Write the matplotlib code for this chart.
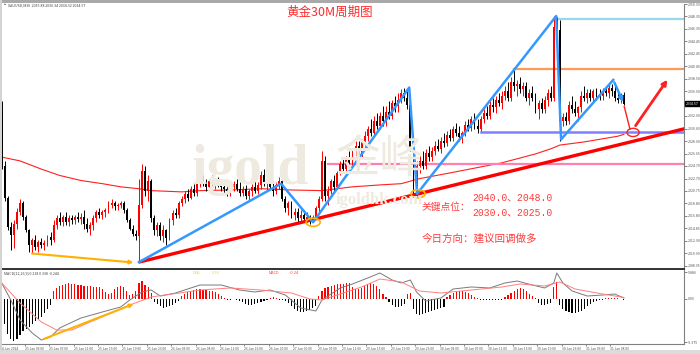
import numpy as np
import matplotlib
matplotlib.use("Agg")
import matplotlib.pyplot as plt
from matplotlib.patches import Ellipse, Rectangle

plt.rcParams['font.family'] = ['Noto Sans CJK SC', 'DejaVu Sans']

# XAUUSD M30 candles, 24 Jan - 31 Jan 2024
opens = [2032.9, 2024.7, 2019.7, 2015.0, 2013.8, 2015.6, 2017.5, 2018.8, 2016.6, 2014.5,
         2012.2, 2013.0, 2011.9, 2012.7, 2012.2, 2012.5, 2013.4, 2013.0, 2015.3, 2016.4,
         2015.8, 2016.6, 2015.8, 2016.4, 2016.1, 2016.7, 2016.3, 2016.7, 2015.5, 2014.8,
         2015.3, 2016.4, 2017.4, 2016.9, 2017.4, 2017.7, 2018.5, 2018.9, 2018.3, 2018.5,
         2018.8, 2017.7, 2016.1, 2014.8, 2013.9, 2013.6, 2018.5, 2023.9, 2020.8, 2022.4,
         2016.4, 2014.5, 2015.3, 2013.6, 2014.5, 2013.3, 2016.1, 2017.2, 2016.9, 2018.8,
         2019.5, 2020.3, 2019.7, 2021.1, 2020.5, 2022.1, 2022.7, 2022.1, 2021.4, 2022.4,
         2021.9, 2022.4, 2021.7, 2021.4, 2021.1, 2020.8, 2021.3, 2021.9, 2021.1, 2020.5,
         2021.1, 2020.0, 2020.8, 2021.4, 2020.8, 2021.7, 2023.2, 2022.1, 2022.7, 2021.4,
         2020.8, 2021.7, 2022.4, 2019.5, 2018.0, 2018.8, 2016.9, 2017.4, 2016.4, 2017.0,
         2016.3, 2016.7, 2016.1, 2016.7, 2018.0, 2019.5, 2025.5, 2020.0, 2020.8, 2022.4,
         2021.4, 2023.6, 2025.0, 2024.2, 2025.8, 2025.2, 2027.1, 2027.9, 2026.3, 2028.6,
         2029.4, 2030.5, 2029.9, 2031.8, 2031.0, 2032.6, 2031.8, 2033.3, 2032.6, 2034.6,
         2034.1, 2035.2, 2036.2, 2035.5, 2034.3, 2027.4, 2020.0, 2024.7, 2025.5, 2024.7,
         2026.8, 2026.1, 2027.1, 2027.9, 2027.4, 2028.6, 2028.3, 2029.6, 2029.1, 2030.5,
         2029.9, 2029.3, 2029.9, 2031.1, 2030.7, 2032.1, 2031.0, 2030.5, 2032.1, 2033.0,
         2032.6, 2034.4, 2034.0, 2035.1, 2034.6, 2035.8, 2036.5, 2035.4, 2038.0, 2037.3,
         2037.7, 2036.8, 2037.4, 2035.5, 2036.2, 2035.4, 2033.7, 2034.6, 2033.7, 2035.2,
         2036.2, 2035.5, 2046.7, 2046.2, 2031.8, 2032.4, 2031.8, 2034.4, 2033.7, 2033.0,
         2034.0, 2035.8, 2035.5, 2036.2, 2035.4, 2036.5, 2036.0, 2035.7, 2036.5, 2036.2,
         2037.1, 2036.5, 2035.5, 2035.1, 2035.88]
highs = [2034.9, 2025.5, 2020.0, 2015.8, 2016.1, 2018.0, 2019.5, 2019.2, 2016.9, 2014.8,
         2013.3, 2013.8, 2013.0, 2013.3, 2013.0, 2013.8, 2014.2, 2016.1, 2016.9, 2017.4,
         2016.9, 2017.4, 2016.9, 2017.0, 2017.0, 2017.4, 2017.2, 2017.7, 2016.4, 2015.8,
         2016.9, 2017.7, 2018.0, 2017.7, 2018.0, 2019.2, 2019.5, 2019.2, 2018.9, 2019.2,
         2019.2, 2018.0, 2016.4, 2015.3, 2014.5, 2022.7, 2025.0, 2024.7, 2023.2, 2022.7,
         2016.9, 2015.8, 2015.8, 2015.3, 2014.8, 2016.4, 2017.7, 2018.0, 2019.2, 2020.0,
         2020.8, 2021.1, 2021.6, 2021.9, 2022.4, 2023.0, 2023.2, 2022.7, 2022.7, 2023.2,
         2022.7, 2023.0, 2022.7, 2022.4, 2022.1, 2021.6, 2022.4, 2022.7, 2022.1, 2021.6,
         2021.7, 2021.1, 2021.9, 2022.4, 2022.1, 2023.9, 2024.2, 2023.2, 2023.6, 2022.4,
         2022.1, 2023.0, 2022.7, 2020.0, 2019.2, 2019.2, 2018.0, 2018.0, 2017.7, 2017.7,
         2017.4, 2017.0, 2017.0, 2018.4, 2020.0, 2027.1, 2026.3, 2021.6, 2022.7, 2023.2,
         2023.9, 2025.5, 2025.8, 2026.3, 2027.1, 2027.4, 2028.6, 2028.6, 2029.0, 2030.2,
         2031.0, 2032.1, 2032.6, 2033.0, 2033.3, 2034.1, 2034.1, 2034.9, 2035.2, 2035.7,
         2036.2, 2036.8, 2037.1, 2036.5, 2034.9, 2028.6, 2025.5, 2026.3, 2027.1, 2027.4,
         2027.9, 2027.7, 2028.6, 2029.0, 2029.3, 2029.9, 2030.2, 2030.5, 2031.0, 2031.5,
         2031.0, 2030.2, 2031.8, 2032.1, 2032.6, 2033.0, 2032.1, 2032.6, 2033.7, 2034.1,
         2034.9, 2035.5, 2035.7, 2036.2, 2036.5, 2037.3, 2038.0, 2038.8, 2039.9, 2038.3,
         2038.7, 2038.0, 2038.0, 2036.8, 2037.3, 2036.2, 2035.2, 2035.5, 2035.7, 2036.8,
         2037.3, 2048.4, 2048.2, 2047.7, 2033.0, 2033.3, 2034.9, 2035.7, 2034.9, 2034.1,
         2036.5, 2037.3, 2036.8, 2036.8, 2036.8, 2037.1, 2036.8, 2037.1, 2037.3, 2037.7,
         2037.7, 2037.4, 2036.5, 2036.2, 2036.34]
lows = [2024.2, 2019.2, 2014.5, 2011.4, 2011.7, 2014.8, 2016.9, 2016.1, 2014.2, 2011.1,
        2010.9, 2011.4, 2011.1, 2011.7, 2011.4, 2012.0, 2012.2, 2012.7, 2014.8, 2015.3,
        2015.2, 2015.3, 2015.2, 2015.5, 2015.6, 2015.8, 2015.5, 2014.8, 2014.2, 2013.8,
        2014.5, 2015.8, 2016.4, 2016.3, 2016.7, 2017.2, 2018.0, 2017.7, 2017.7, 2018.0,
        2017.2, 2015.8, 2014.5, 2013.6, 2013.0, 2009.5, 2018.0, 2020.0, 2019.2, 2015.8,
        2013.8, 2013.6, 2013.0, 2012.7, 2012.2, 2013.0, 2015.3, 2016.4, 2016.4, 2018.3,
        2018.9, 2019.2, 2019.4, 2020.0, 2020.0, 2021.4, 2021.6, 2020.8, 2020.8, 2021.6,
        2021.1, 2021.4, 2020.8, 2020.5, 2020.0, 2019.9, 2020.8, 2020.8, 2020.0, 2019.9,
        2019.5, 2019.2, 2020.0, 2020.5, 2020.2, 2021.1, 2021.6, 2020.8, 2021.1, 2020.0,
        2020.2, 2021.1, 2019.2, 2017.4, 2016.9, 2016.4, 2016.1, 2015.9, 2015.8, 2015.9,
        2015.8, 2015.6, 2015.8, 2016.4, 2017.4, 2019.2, 2019.2, 2018.5, 2020.2, 2020.8,
        2021.1, 2023.2, 2023.6, 2023.9, 2024.7, 2024.7, 2026.3, 2025.8, 2025.8, 2027.9,
        2028.6, 2029.4, 2029.4, 2030.5, 2030.5, 2031.0, 2031.0, 2032.1, 2032.1, 2033.3,
        2033.3, 2034.6, 2034.9, 2033.7, 2027.1, 2019.8, 2019.8, 2023.6, 2024.2, 2024.2,
        2025.5, 2025.5, 2026.4, 2027.1, 2026.8, 2027.7, 2027.9, 2028.6, 2028.6, 2029.4,
        2028.6, 2028.3, 2029.4, 2030.2, 2030.2, 2030.5, 2029.9, 2030.2, 2031.5, 2032.1,
        2032.1, 2033.3, 2033.0, 2034.1, 2033.7, 2035.2, 2034.9, 2034.9, 2036.5, 2035.7,
        2036.2, 2035.8, 2034.9, 2034.3, 2034.9, 2033.0, 2032.1, 2033.0, 2033.0, 2034.1,
        2034.9, 2034.9, 2045.6, 2028.6, 2031.0, 2031.1, 2031.3, 2033.0, 2032.6, 2031.8,
        2033.3, 2034.9, 2034.6, 2034.9, 2034.9, 2035.2, 2035.2, 2035.2, 2035.7, 2035.5,
        2035.7, 2034.9, 2034.6, 2034.6, 2034.32]
closes = [2024.7, 2019.7, 2015.0, 2013.8, 2015.6, 2017.5, 2018.8, 2016.6, 2014.5, 2012.2,
          2013.0, 2011.9, 2012.7, 2012.2, 2012.5, 2013.4, 2013.0, 2015.3, 2016.4, 2015.8,
          2016.6, 2015.8, 2016.4, 2016.1, 2016.7, 2016.3, 2016.7, 2015.5, 2014.8, 2015.3,
          2016.4, 2017.4, 2016.9, 2017.4, 2017.7, 2018.5, 2018.9, 2018.3, 2018.5, 2018.8,
          2017.7, 2016.1, 2014.8, 2013.9, 2013.6, 2018.5, 2023.9, 2020.8, 2022.4, 2016.4,
          2014.5, 2015.3, 2013.6, 2014.5, 2013.3, 2016.1, 2017.2, 2016.9, 2018.8, 2019.5,
          2020.3, 2019.7, 2021.1, 2020.5, 2022.1, 2022.7, 2022.1, 2021.4, 2022.4, 2021.9,
          2022.4, 2021.7, 2021.4, 2021.1, 2020.8, 2021.3, 2021.9, 2021.1, 2020.5, 2021.1,
          2020.0, 2020.8, 2021.4, 2020.8, 2021.7, 2023.2, 2022.1, 2022.7, 2021.4, 2020.8,
          2021.7, 2022.4, 2019.5, 2018.0, 2018.8, 2016.9, 2017.4, 2016.4, 2017.0, 2016.3,
          2016.7, 2016.1, 2016.7, 2018.0, 2019.5, 2025.5, 2020.0, 2020.8, 2022.4, 2021.4,
          2023.6, 2025.0, 2024.2, 2025.8, 2025.2, 2027.1, 2027.9, 2026.3, 2028.6, 2029.4,
          2030.5, 2029.9, 2031.8, 2031.0, 2032.6, 2031.8, 2033.3, 2032.6, 2034.6, 2034.1,
          2035.2, 2036.2, 2035.5, 2034.3, 2027.4, 2020.0, 2024.7, 2025.5, 2024.7, 2026.8,
          2026.1, 2027.1, 2027.9, 2027.4, 2028.6, 2028.3, 2029.6, 2029.1, 2030.5, 2029.9,
          2029.3, 2029.9, 2031.1, 2030.7, 2032.1, 2031.0, 2030.5, 2032.1, 2033.0, 2032.6,
          2034.4, 2034.0, 2035.1, 2034.6, 2035.8, 2036.5, 2035.4, 2038.0, 2037.3, 2037.7,
          2036.8, 2037.4, 2035.5, 2036.2, 2035.4, 2033.7, 2034.6, 2033.7, 2035.2, 2036.2,
          2035.5, 2046.7, 2046.2, 2031.8, 2032.4, 2031.8, 2034.4, 2033.7, 2033.0, 2034.0,
          2035.8, 2035.5, 2036.2, 2035.4, 2036.5, 2036.0, 2035.7, 2036.5, 2036.2, 2037.1,
          2036.5, 2035.5, 2035.1, 2035.9, 2034.57]

# long moving average (red thin line), sampled at bar index
ma_bars = [0, 6, 13, 19, 26, 33, 39, 45, 49, 59, 65, 75, 85, 95, 105, 115, 124, 131,
           137, 147, 164, 175, 180, 183, 191, 202, 204]
ma_vals = [2026.1, 2025.5, 2024.2, 2023.2, 2022.4, 2021.9, 2021.4, 2021.1, 2020.8, 2020.6,
           2020.8, 2020.9, 2021.1, 2020.9, 2020.8, 2021.4, 2021.7, 2021.9, 2022.7, 2023.6,
           2025.2, 2026.6, 2027.4, 2028.0, 2028.5, 2029.4, 2029.7]

# MACD(12,26,9) histogram, one value per bar
macd_hist = [-2.2, -5.5, -7.6, -8.7, -9.2, -8.7, -7.8, -7.0, -6.5, -6.1, -5.5, -4.8, -4.4, -3.9, -3.1, -2.2, -1.3,
             1.7, 2.4, 2.8, 3.1, 3.3, 3.5, 3.3, 3.3, 3.1, 3.1, 2.8, 2.8, 2.8, 2.6, 2.6, 2.6, 2.2, 1.5, 1.1,
             1.3, 2.2, 2.6, 2.8, 2.6, 1.7, 0.9, 1.1, 1.7, 3.5, 3.9, 3.1, 2.6, 1.3,
             -0.7, -1.1, -1.5, -2.0, -1.7, -1.5, -1.3, -0.9, -0.4,
             0.7, 1.1, 1.5, 1.7, 2.0, 2.2, 2.2, 2.0, 2.0, 1.7, 1.7, 1.5, 1.1, 0.7,
             0.2, -0.2, -0.2, 0.1, -0.2, -0.4,
             -0.7, -1.1, -1.3, -1.3, -1.1, -0.9, -0.7, -0.4, -0.2,
             0.2, 0.4, 0.2, -0.2, -0.2, -0.4,
             -0.9, -1.5, -2.2, -2.6, -2.8, -2.8, -2.6, -2.4, -2.0, -1.5,
             0.7, 1.7, 2.4, 2.6, 2.8, 3.1, 3.3, 3.3, 3.3, 3.5, 3.5,
             2.6, 2.2, 2.2, 2.4, 2.8, 3.3, 3.5, 3.3, 2.8, 2.2, 1.1, 0.4,
             -0.7, -1.3, -1.7, -1.7, -1.5, -1.1,
             1.1, 1.3,
             -2.2, -3.3, -3.5, -3.3, -3.1, -2.8, -2.6, -2.4, -2.2, -2.0, -1.7,
             0.4, 0.9, 1.3, 1.5, 1.7, 1.7, 1.5, 1.3, 0.9, 0.4, 0.2,
             -0.2, -0.2, -0.2, -0.2, -0.2, -0.2, -0.2, -0.2,
             0.4, 0.9, 1.3, 1.7, 2.2, 2.4, 2.2, 1.7, 1.1, 0.7, 0.2,
             -0.9, -1.3, -1.3, -1.1, -0.9,
             2.6, 3.7,
             -1.3, -2.2, -2.6, -2.8, -3.1, -3.1, -2.8, -2.6, -2.2, -1.5, -1.1,
             -0.7, -0.4, -0.2, -0.2, 0.2, 0.2, 0.2, 0.2, 0.2, 0.1, -0.24]

dif_bars = [0, 3, 6, 10, 13, 16, 19, 26, 33, 39, 42, 46, 49, 52, 57, 62, 65, 72, 78, 83, 88,
            93, 98, 103, 105, 111, 115, 120, 124, 128, 131, 134, 136, 139, 144, 148, 154, 160,
            165, 169, 174, 178, 181, 182, 184, 187, 192, 197, 201, 204]
dif_vals = [3.49, -0.22, -4.58, -7.41, -8.94, -8.28, -6.32, -4.14, -2.83, -1.74, -0.22, 1.53,
            1.96, 0.65, 1.31, 2.40, 3.05, 3.05, 1.96, 1.53, 1.96, 0.87, -1.96, -2.62, -0.22,
            2.40, 3.27, 4.58, 5.67, 4.14, 3.49, 4.14, 1.53, -0.44, 0.22, 2.18, 2.62, 2.40,
            3.49, 3.92, 3.05, 2.40, 3.49, 5.67, 3.49, 1.74, 0.65, 0.87, 1.09, 0.22]
dea_bars = [0, 6, 13, 18, 23, 29, 36, 42, 49, 56, 65, 75, 85, 95, 101, 105, 111, 118, 124,
            131, 137, 144, 154, 164, 170, 178, 183, 188, 197, 204]
dea_vals = [3.49, -0.87, -5.01, -6.76, -6.76, -5.01, -3.05, -1.31, 0.44, 1.09, 1.96, 2.40,
            1.96, 1.31, 0.0, -0.22, 1.09, 2.62, 4.36, 3.71, 1.74, 1.31, 1.96, 2.62, 3.27,
            2.83, 3.71, 2.18, 1.09, 0.34]

time_labels = ['24 Jan 2024', '25 Jan 03:00', '25 Jan 07:00', '25 Jan 11:00', '25 Jan 15:00',
               '25 Jan 19:00', '25 Jan 23:00', '26 Jan 03:00', '26 Jan 08:00', '26 Jan 12:00',
               '26 Jan 16:00', '26 Jan 20:00', '27 Jan 00:00', '29 Jan 07:00', '29 Jan 11:00',
               '29 Jan 15:00', '29 Jan 19:00', '29 Jan 23:00', '30 Jan 03:00', '30 Jan 07:00',
               '30 Jan 11:00', '30 Jan 15:00', '30 Jan 19:00', '30 Jan 23:00', '31 Jan 03:00',
               '31 Jan 08:00']
time_label_bars = [8 * k - 0.4 for k in range(len(time_labels))]

price_ticks = [2050.30, 2048.35, 2046.35, 2044.45, 2042.45, 2040.45, 2038.50, 2036.50,
               2032.60, 2030.60, 2028.60, 2026.65, 2024.70, 2022.70, 2020.75, 2018.80,
               2016.80, 2014.85, 2012.90, 2010.90, 2008.95]
macd_ticks = [5.886, 0.0, -9.375]
macd_tick_labels = ['5.886', '0.00', '-9.375']
last_price = 2034.57

# key levels and hand-drawn analysis
level_cyan, level_cyan_from = 2048.0, 182
level_orange, level_orange_from = 2040.0, 168
level_purple, level_purple_from = 2030.0, 157
level_pink, level_pink_from = 2025.0, 107
trend_bars, trend_vals = [45, 224], [2009.5, 2030.6]
zig_bars = [45, 91.6, 102.1, 133.6, 136.2, 181.8, 183.4, 200.5]
zig_vals = [2009.5, 2021.9, 2015.8, 2037.1, 2020.3, 2048.4, 2028.9, 2038.3]
zig_tip = (204.1, 2034.4)
orange_arrow = ((9.0, 2010.9), (44.1, 2009.4))
red_down = ([204.1, 206.0], [2034.1, 2030.5])
red_arrow = ((207.3, 2030.7), (218.8, 2038.7))
red_ring = (207.0, 2030.0)
orange_rings = [(102.1, 2015.8), (136.5, 2020.3)]
macd_arrow = ((12.9, -8.94), (44.1, -0.87))

W, H = 700, 354


def fx(x):
    return x / W


def fy(y):
    return 1 - y / H


fig = plt.figure(figsize=(7, 3.54), dpi=100)
fig.patch.set_facecolor('white')
ax = fig.add_axes([0, fy(268), fx(684), 264 / H])
mx = fig.add_axes([0, fy(344), fx(684), 75 / H], sharex=ax)

o, h, l, c = map(np.array, (opens, highs, lows, closes))
x = np.arange(len(c))
col = np.where(c >= o, '#ff0000', '#000000')

# watermark behind everything
wm = '#efeadf'
fig.text(fx(192), fy(184), 'igold', fontsize=40, family='Liberation Serif', weight='bold',
         color=wm, zorder=0)
fig.text(fx(336), fy(172), '金峰', fontsize=32, color=wm, zorder=0)
fig.text(fx(336), fy(204), 'igoldhk.com', fontsize=12, family='Liberation Serif',
         weight='bold', color=wm, zorder=0)
ax.set_facecolor('none')
mx.set_facecolor('none')

ax.vlines(x, l, h, colors=col, lw=0.7, zorder=3)
ax.bar(x, np.maximum(np.abs(c - o), 0.12), bottom=np.minimum(o, c), width=0.62,
       color=col, lw=0, zorder=3)
ax.plot(ma_bars, ma_vals, color='#ff2020', lw=0.8, zorder=2)

xr = 224
ax.plot([level_cyan_from, xr], [level_cyan] * 2, color='#9ad6ec', lw=1.6, zorder=2)
ax.plot([level_orange_from, xr], [level_orange] * 2, color='#ff9955', lw=1.6, zorder=2)
ax.plot([level_purple_from, xr], [level_purple] * 2, color='#7f7fff', lw=1.8, zorder=2)
ax.plot([level_pink_from, xr], [level_pink] * 2, color='#ff7fb0', lw=1.6, zorder=2)

ax.plot(trend_bars, trend_vals, color='#ff0000', lw=2.4, zorder=4, solid_capstyle='butt')
ax.plot(zig_bars, zig_vals, color='#3399ff', lw=1.8, zorder=4)
ax.annotate('', xy=zig_tip, xytext=(zig_bars[-1], zig_vals[-1]),
            arrowprops=dict(arrowstyle='-|>', color='#3399ff', lw=1.8, mutation_scale=6), zorder=4)
ax.annotate('', xy=orange_arrow[1], xytext=orange_arrow[0],
            arrowprops=dict(arrowstyle='-|>', color='#ffb000', lw=1.5, mutation_scale=5), zorder=4)
ax.plot(*red_down, color='#ff2020', lw=1.0, zorder=4)
ax.annotate('', xy=red_arrow[1], xytext=red_arrow[0],
            arrowprops=dict(arrowstyle='-|>', color='#ff2020', lw=2.0, mutation_scale=7), zorder=4)
ax.add_patch(Ellipse(red_ring, 4.0, 1.3, fill=False, ec='#ff2020', lw=1.0, zorder=5))
for ring in orange_rings:
    ax.add_patch(Ellipse(ring, 4.6, 1.3, fill=False, ec='#ffb000', lw=1.2, zorder=5))

ax.set_xlim(-0.56, 223.7)
ax.set_ylim(2008.57, 2049.94)
for s in ('top', 'left', 'bottom'):
    ax.spines[s].set_visible(False)
ax.spines['right'].set_color('#808080')
ax.spines['right'].set_linewidth(0.8)
ax.yaxis.tick_right()
ax.set_yticks(price_ticks)
ax.set_yticklabels(['%.2f' % v for v in price_ticks])
ax.tick_params(axis='y', length=2, width=0.5, pad=1, labelsize=2.6, colors='#555555')
ax.tick_params(axis='x', bottom=False, labelbottom=False)

# current price box
ax.annotate('%.2f' % last_price, xy=(1.0, last_price), xycoords=('axes fraction', 'data'),
            xytext=(1.5, 0), textcoords='offset points', fontsize=2.6, color='white',
            va='center', ha='left', annotation_clip=False,
            bbox=dict(boxstyle='square,pad=0.25', fc='black', ec='black'))

# MACD panel
hv = np.array(macd_hist)
mx.bar(x, hv, width=0.38, color=np.where(hv >= 0, '#ff0000', '#000000'), lw=0, zorder=2)
mx.plot(dif_bars, dif_vals, color='#7a7a7a', lw=0.7, zorder=3)
mx.plot(dea_bars, dea_vals, color='#ff7f7f', lw=0.7, zorder=3)
mx.annotate('', xy=macd_arrow[1], xytext=macd_arrow[0],
            arrowprops=dict(arrowstyle='-|>', color='#ffb000', lw=1.5, mutation_scale=5), zorder=4)
mx.set_ylim(-9.81, 6.54)
mx.spines['top'].set_color('#222222')
mx.spines['top'].set_linewidth(1.3)
mx.spines['left'].set_visible(False)
mx.spines['right'].set_color('#808080')
mx.spines['right'].set_linewidth(0.8)
mx.spines['bottom'].set_color('#808080')
mx.spines['bottom'].set_linewidth(0.8)
mx.yaxis.tick_right()
mx.set_yticks(macd_ticks)
mx.set_yticklabels(macd_tick_labels)
mx.tick_params(axis='y', length=2, width=0.5, pad=1, labelsize=2.6, colors='#555555')
mx.set_xticks(time_label_bars)
mx.set_xticklabels(time_labels, ha='left')
mx.tick_params(axis='x', length=1.5, width=0.5, pad=0.8, labelsize=2.4, colors='#555555')

# texts
red_txt = '#ff3b3b'
fig.text(fx(8), fy(5), 'XAUUSD,M30  2035.88 2036.34 2034.32 2034.57', fontsize=2.6,
         color='#444444', va='center')
fig.text(fx(3), fy(5), '\u25aa', fontsize=3, color='#333333', va='center')
fig.text(fx(330), fy(12), '黄金30M周期图', fontsize=9, color='#ff2a2a', ha='center', va='center')
fig.text(fx(422), fy(207), '关键点位：', fontsize=7, color=red_txt, va='center')
fig.text(fx(472), fy(197), '2040.0、2048.0', fontsize=7, color=red_txt, va='center',
         family=['Liberation Mono', 'Noto Sans CJK SC'])
fig.text(fx(472), fy(212.5), '2030.0、2025.0', fontsize=7, color=red_txt, va='center',
         family=['Liberation Mono', 'Noto Sans CJK SC'])
fig.text(fx(422), fy(239), '今日方向：建议回调做多', fontsize=7.6, color=red_txt, va='center')
fig.text(fx(4), fy(273), 'MACD(12,26,9) 0.218 0.338 -0.244', fontsize=2.6, color='#444444', va='center')
fig.text(fx(193), fy(273), 'DEA:', fontsize=2.8, color='#ffd21f', va='center')
fig.text(fx(212), fy(273), '0.34', fontsize=2.8, color='#ffd21f', va='center')
fig.text(fx(269), fy(273), 'MACD', fontsize=2.8, color=red_txt, va='center')
fig.text(fx(290), fy(273), '-0.24', fontsize=2.8, color=red_txt, va='center')

# window frame
fig.patches.append(Rectangle((0, fy(3)), 1, 3 / H, transform=fig.transFigure,
                             fc='#a9a9a9', ec='none', zorder=10))
fig.patches.append(Rectangle((0, 0), fx(2), 1, transform=fig.transFigure,
                             fc='#d4d4d4', ec='none', zorder=10))
fig.patches.append(Rectangle((0, 0), 1, 4 / H, transform=fig.transFigure,
                             fc='#dcdcdc', ec='none', zorder=10))

fig.savefig('out.png', dpi=100)
